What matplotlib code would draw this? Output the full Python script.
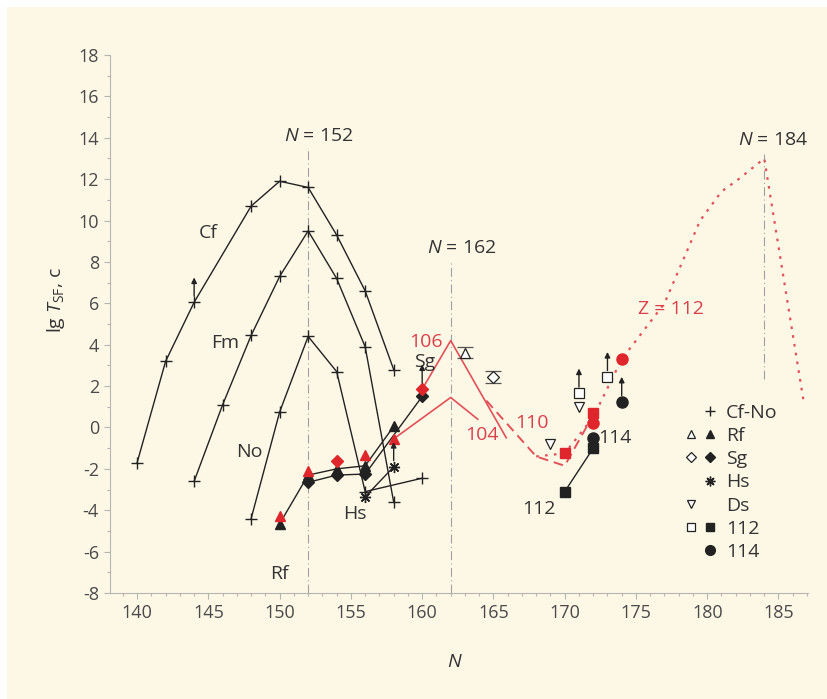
import matplotlib

matplotlib.use("Agg")

import matplotlib.pyplot as plt
from matplotlib.lines import Line2D
from matplotlib.legend_handler import HandlerTuple
from matplotlib.patches import Rectangle

# Cf-No family (+ markers)
cf_n = [140, 142, 144, 148, 150, 152, 154, 156, 158]
cf_lg = [-1.7, 3.2, 6.05, 10.7, 11.9, 11.6, 9.3, 6.6, 2.8]
fm_n = [144, 146, 148, 150, 152, 154, 156, 158]
fm_lg = [-2.6, 1.1, 4.45, 7.3, 9.5, 7.2, 3.9, -3.6]
no_n = [148, 150, 152, 154, 156, 160]
no_lg = [-4.4, 0.75, 4.4, 2.7, -3.1, -2.45]

# heavier elements, measured (black) and calculated (red)
rf_n = [150, 152, 154, 156, 158]
rf_lg = [-4.65, -2.3, -2.0, -1.85, 0.05]
rf_red_n = [150, 152, 156, 158]
rf_red_lg = [-4.3, -2.1, -1.35, -0.55]
sg_n = [152, 154, 156, 160]
sg_lg = [-2.65, -2.3, -2.25, 1.5]
sg_red_n = [154, 160]
sg_red_lg = [-1.6, 1.85]
hs_n = [156, 158]
hs_lg = [-3.35, -1.9]
ds_open_n = [169, 171]
ds_open_lg = [-0.8, 1.0]
e112_n = [170, 172]
e112_lg = [-3.1, -1.0]
e112_open_n = [171, 173]
e112_open_lg = [1.65, 2.45]
e112_red_n = [170, 172]
e112_red_lg = [-1.25, 0.7]
e114_n = [172, 174]
e114_lg = [-0.5, 1.25]
e114_red_n = [172, 174]
e114_red_lg = [0.2, 3.3]

# open points with error bars
rf_open_n = [163]
rf_open_lg = [3.6]
rf_open_err = [[0.25], [0.3]]
sg_open_n = [165]
sg_open_lg = [2.45]
sg_open_err = [[0.32], [0.3]]

# lower limits (arrows up)
limit_n = [144, 158, 160, 171, 173, 174]
limit_lg = [6.05, -1.9, 1.85, 1.65, 2.45, 1.25]

# theory curves
z104_n = [158, 162, 163.9]
z104_lg = [-0.55, 1.45, 0.4]
z106_n = [160, 162, 165.9]
z106_lg = [1.85, 4.2, -0.5]
z110_n = [164.5, 168, 170, 172]
z110_lg = [1.3, -1.4, -1.85, 0.6]
z112_n = [168, 170, 172, 174, 177, 179.5, 181, 182.2, 184, 186.8]
z112_lg = [-1.4, -1.25, 0.5, 3.3, 6.0, 10.0, 11.4, 12.0, 13.0, 1.1]

# shell closures
shell_n = [152, 162, 184]
shell_top = [13.4, 8.0, 13.2]
shell_bottom = [-8, -8, 2.35]

CREAM = "#fdf8e6"
BLACK = "#222222"
RED = "#e0262d"
RED_LINE = "#e2505a"
TEXT = "#333333"

plt.rcParams["font.family"] = ["Open Sans", "DejaVu Sans"]
plt.rcParams["mathtext.fontset"] = "custom"
plt.rcParams["mathtext.rm"] = "Open Sans"
plt.rcParams["mathtext.it"] = "Open Sans:italic"
plt.rcParams["axes.unicode_minus"] = False

fig = plt.figure(figsize=(8.28, 6.99), dpi=100, facecolor="white")
fig.patches.append(Rectangle((7 / 828, 0), 1, 1 - 7 / 699, transform=fig.transFigure,
                             facecolor=CREAM, edgecolor="none", zorder=-10))
ax = fig.add_axes([0.1329, 0.1516, 0.8426, 0.7697])
ax.set_facecolor(CREAM)
ax.patch.set_alpha(0)

ax.set_xlim(138.1, 187.05)
ax.set_ylim(-8, 18)
ax.set_xticks(range(140, 186, 5))
ax.set_xticks(range(139, 188), minor=True)
ax.set_yticks(range(-8, 19, 2))
ax.set_yticks(range(-8, 19), minor=True)
for side in ["top", "right"]:
    ax.spines[side].set_visible(False)
for side in ["left", "bottom"]:
    ax.spines[side].set_color("#b5b5b0")
    ax.spines[side].set_linewidth(0.8)
ax.tick_params(which="both", color="#b5b5b0", labelcolor="#4a4a4a", labelsize=13, width=0.8)
ax.tick_params(which="major", length=4, pad=4)
ax.tick_params(which="minor", length=2.5)

ax.set_xlabel("$\\mathit{N}$", fontsize=14, color=TEXT)
ax.xaxis.set_label_coords(0.494, -0.112)
ax.set_ylabel("lg $\\mathit{T}_{\\mathrm{SF}}$, с", fontsize=14, color=TEXT)
ax.yaxis.set_label_coords(-0.062, 0.545)

# shell closure lines
for n, top, bottom in zip(shell_n, shell_top, shell_bottom):
    ax.plot([n, n], [bottom, top], color="#a0a0a0", lw=0.8, ls=(0, (8, 3, 1, 3)), zorder=1)

# Cf-No curves
for n, lg in [(cf_n, cf_lg), (fm_n, fm_lg), (no_n, no_lg)]:
    ax.plot(n, lg, color=BLACK, lw=1.0, marker="+", ms=8, mew=1.0, zorder=3)

# theory curves
ax.plot(z104_n, z104_lg, color=RED_LINE, lw=1.2, zorder=2)
ax.plot(z106_n, z106_lg, color=RED_LINE, lw=1.2, zorder=2)
ax.plot(z110_n, z110_lg, color=RED_LINE, lw=1.4, ls=(0, (5, 3)), zorder=2)
ax.plot(z112_n, z112_lg, color=RED_LINE, lw=1.6, ls=(0, (1.2, 2.8)), zorder=2)

# measured data
ax.plot(rf_n, rf_lg, color=BLACK, lw=1.0, marker="^", ms=7, zorder=4)
ax.plot(sg_n, sg_lg, color=BLACK, lw=1.0, marker="D", ms=6, zorder=4)
ax.plot(hs_n, hs_lg, color=BLACK, lw=1.0, marker=(8, 2, 0), ms=8, mew=1.0, zorder=4)
ax.plot(e112_n, e112_lg, color=BLACK, lw=1.0, marker="s", ms=7, zorder=4)
ax.plot(e114_n, e114_lg, color=BLACK, ls="none", marker="o", ms=8, zorder=4)
ax.plot(ds_open_n, ds_open_lg, ls="none", marker="v", ms=7, mfc="white", mec=BLACK, mew=0.9, zorder=4)
ax.plot(e112_open_n, e112_open_lg, ls="none", marker="s", ms=7, mfc="white", mec=BLACK, mew=0.9, zorder=4)
ax.errorbar(rf_open_n, rf_open_lg, yerr=rf_open_err, fmt="^", ms=7, mfc="white", mec=BLACK, mew=0.9,
            ecolor="#555555", elinewidth=0.8, capsize=6, capthick=0.8, zorder=4)
ax.errorbar(sg_open_n, sg_open_lg, yerr=sg_open_err, fmt="D", ms=6, mfc="white", mec=BLACK, mew=0.9,
            ecolor="#555555", elinewidth=0.8, capsize=6, capthick=0.8, zorder=4)

# calculated values
ax.plot(rf_red_n, rf_red_lg, ls="none", marker="^", ms=7, color=RED, zorder=5)
ax.plot(sg_red_n, sg_red_lg, ls="none", marker="D", ms=6, color=RED, zorder=5)
ax.plot(e112_red_n, e112_red_lg, ls="none", marker="s", ms=7, color=RED, zorder=5)
ax.plot(e114_red_n, e114_red_lg, ls="none", marker="o", ms=8, color=RED, zorder=5)

# lower limits
for n, lg in zip(limit_n, limit_lg):
    ax.annotate("", xy=(n, lg + 1.2), xytext=(n, lg + 0.3),
                arrowprops=dict(arrowstyle="-|>", color=BLACK, lw=1.0, mutation_scale=8,
                                shrinkA=0, shrinkB=0), zorder=6)

# curve labels
black_labels = [("Cf", 144.97, 9.4), ("Fm", 146.15, 4.1), ("No", 147.9, -1.2), ("Rf", 150.0, -7.1),
                ("Hs", 155.3, -4.2), ("Sg", 160.15, 3.15), ("112", 168.2, -3.95), ("114", 173.55, -0.5)]
for text, x, y in black_labels:
    ax.text(x, y, text, fontsize=14, color=TEXT, ha="center", va="center")

red_labels = [("106", 160.3, 4.15), ("104", 164.2, -0.35), ("110", 167.7, 0.2), ("Z = 112", 177.45, 5.75)]
for text, x, y in red_labels:
    ax.text(x, y, text, fontsize=14, color="#d9404c", ha="center", va="center")

for n, x, y in [(152, 152.75, 14.1), (162, 162.75, 8.65), (184, 184.6, 13.9)]:
    ax.text(x, y, "$\\mathit{N}$ = %d" % n, fontsize=14, color=TEXT, ha="center", va="center")

# legend
empty = Line2D([], [], ls="none", marker="none")
handles = [
    (empty, Line2D([], [], ls="none", marker="+", ms=7, mew=1.0, color=BLACK)),
    (Line2D([], [], ls="none", marker="^", ms=6, mfc="white", mec=BLACK, mew=0.9),
     Line2D([], [], ls="none", marker="^", ms=6, color=BLACK)),
    (Line2D([], [], ls="none", marker="D", ms=5, mfc="white", mec=BLACK, mew=0.9),
     Line2D([], [], ls="none", marker="D", ms=5, color=BLACK)),
    (empty, Line2D([], [], ls="none", marker=(8, 2, 0), ms=7, mew=1.0, color=BLACK)),
    (Line2D([], [], ls="none", marker="v", ms=6, mfc="white", mec=BLACK, mew=0.9), empty),
    (Line2D([], [], ls="none", marker="s", ms=6, mfc="white", mec=BLACK, mew=0.9),
     Line2D([], [], ls="none", marker="s", ms=6, color=BLACK)),
    (empty, Line2D([], [], ls="none", marker="o", ms=7, color=BLACK)),
]
labels = ["Cf-No", "Rf", "Sg", "Hs", "Ds", "112", "114"]
leg = ax.legend(handles, labels, handler_map={tuple: HandlerTuple(ndivide=None, pad=0.3)},
                loc="upper left", bbox_to_anchor=(0.81, 0.37), frameon=False, fontsize=14,
                handlelength=1.6, handletextpad=0.5, labelspacing=0.27, borderpad=0)
for t in leg.get_texts():
    t.set_color(TEXT)

fig.savefig("out.png", dpi=100, facecolor=fig.get_facecolor())
